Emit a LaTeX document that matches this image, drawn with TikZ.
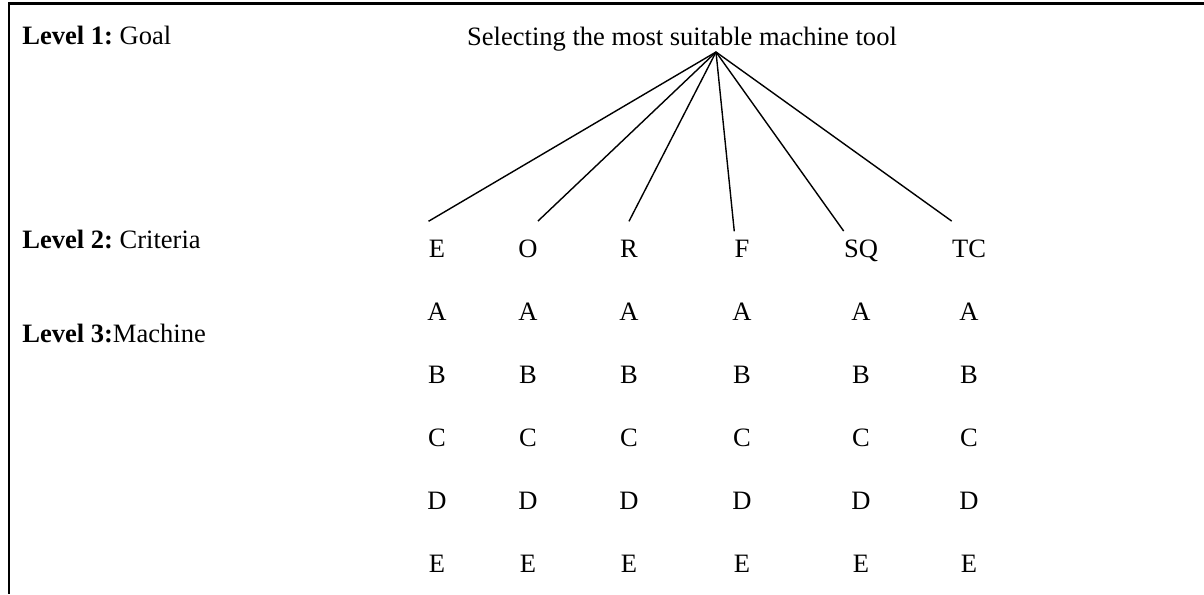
\documentclass[tikz,border=0pt]{standalone}
\usepackage{fontspec}
\setmainfont{Liberation Serif}
\usepackage{tikz}
\usetikzlibrary{positioning}

\tikzset{
  lvl/.style={anchor=base west, inner sep=0pt},
  crit/.style={anchor=base, inner sep=0pt},
  mach/.style={anchor=base, inner sep=0pt},
  link/.style={line width=0.8pt}
}

\begin{document}
\begin{tikzpicture}[font=\fontsize{15.1pt}{18pt}\selectfont]

\useasboundingbox (0,0) rectangle (24.08,-11.88);

% frame (top and left only)
\draw[line width=1.4pt] (24.08,-0.07) -- (0.18,-0.07) -- (0.18,-11.88);

% levels
\node[lvl] (lev1) at (0.44,-0.886) {\textbf{Level 1:}~Goal};
\node[lvl] (lev2) at (0.44,-4.96) {\textbf{Level 2:}~Criteria};
\node[lvl] (lev3) at (0.44,-6.84) {\textbf{Level 3:}Machine};

% goal
\node[anchor=base, inner sep=0pt] (title) at (13.64,-0.90) {Selecting the most suitable machine tool};
\coordinate (goal) at (14.32,-1.04);

% criteria
\node[crit] (cE) at (8.74,-5.14) {E};
\node[crit] (cO) at (10.56,-5.14) {O};
\node[crit] (cR) at (12.58,-5.14) {R};
\node[crit] (cF) at (14.84,-5.14) {F};
\node[crit] (cSQ) at (17.22,-5.14) {SQ};
\node[crit] (cTC) at (19.38,-5.14) {TC};

\draw[link] (goal) -- ([yshift=0.36cm]cE.north west);
\draw[link] (goal) -- ([yshift=0.36cm]cO.north east);
\draw[link] (goal) -- ([yshift=0.36cm]cR.north);
\draw[link] (goal) -- ([yshift=0.16cm]cF.north west);
\draw[link] (goal) -- ([yshift=0.16cm]cSQ.north west);
\draw[link] (goal) -- ([yshift=0.36cm]cTC.north west);

% machines
\foreach \c/\x in {E/8.74, O/10.56, R/12.58, F/14.84, SQ/17.22, TC/19.38}
  \foreach \m/\y in {A/-6.40, B/-7.66, C/-8.92, D/-10.18, E/-11.44}
    \node[mach] (m\c\m) at (\x,\y) {\m};

\end{tikzpicture}
\end{document}
